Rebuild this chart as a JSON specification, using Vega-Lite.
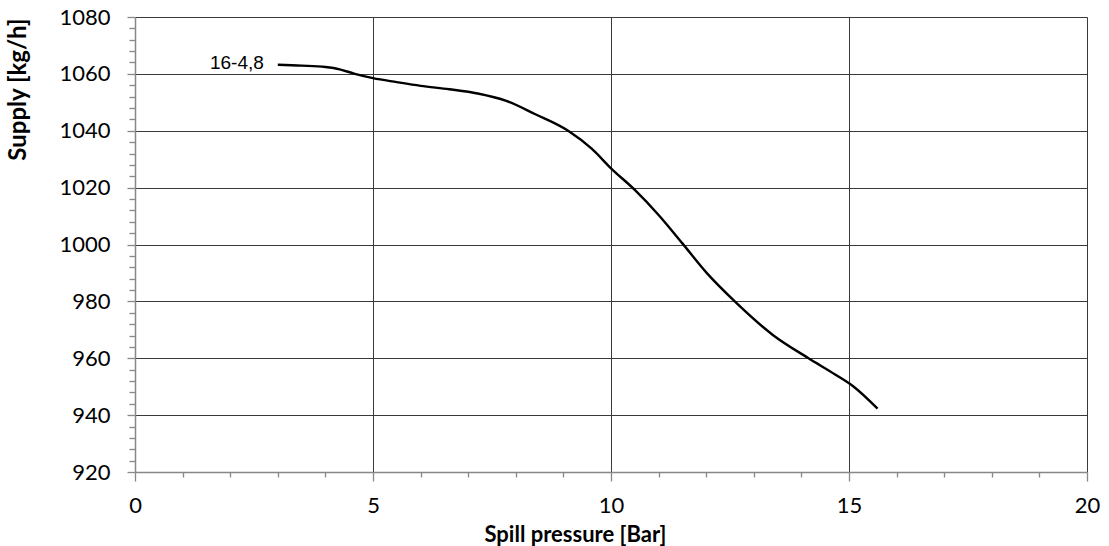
{
  "$schema": "https://vega.github.io/schema/vega-lite/v6.json",
  "width": 952,
  "height": 455,
  "autosize": "none",
  "padding": {"left": 135, "top": 17, "right": 22, "bottom": 74},
  "background": "white",
  "config": {"view": {"stroke": null}},
  "datasets": {
    "curve": [
      {"pressure": 3.0, "supply": 1063.2},
      {"pressure": 3.5, "supply": 1062.9},
      {"pressure": 4.0, "supply": 1062.4},
      {"pressure": 4.3, "supply": 1061.6},
      {"pressure": 4.6, "supply": 1060.1},
      {"pressure": 5.0, "supply": 1058.5},
      {"pressure": 5.5, "supply": 1057.1},
      {"pressure": 6.0, "supply": 1055.8},
      {"pressure": 6.6, "supply": 1054.6},
      {"pressure": 7.2, "supply": 1053.1},
      {"pressure": 7.8, "supply": 1050.5},
      {"pressure": 8.4, "supply": 1045.9},
      {"pressure": 9.1, "supply": 1040.0},
      {"pressure": 9.6, "supply": 1033.6},
      {"pressure": 10.0, "supply": 1026.8},
      {"pressure": 10.5, "supply": 1019.2},
      {"pressure": 11.0, "supply": 1010.4},
      {"pressure": 11.5, "supply": 1000.4},
      {"pressure": 12.0, "supply": 990.2},
      {"pressure": 12.6, "supply": 980.0},
      {"pressure": 13.4, "supply": 968.2},
      {"pressure": 14.15, "supply": 960.0},
      {"pressure": 14.7, "supply": 954.4},
      {"pressure": 15.1, "supply": 950.0},
      {"pressure": 15.6, "supply": 942.3}
    ],
    "label": [
      {"pressure": 3.0, "supply": 1063.2, "name": "16-4,8"}
    ]
  },
  "layer": [
    {
      "data": {"name": "curve"},
      "mark": {"type": "line", "interpolate": "monotone", "color": "black", "strokeWidth": 2.4},
      "encoding": {
        "x": {
          "field": "pressure",
          "type": "quantitative",
          "scale": {"domain": [0, 20], "nice": false, "zero": false},
          "axis": {
            "values": [0,1,2,3,4,5,6,7,8,9,10,11,12,13,14,15,16,17,18,19,20],
            "tickCount": 200,
            "format": "d",
            "labelExpr": "datum.value % 5 === 0 ? datum.label : ''",
            "labelOverlap": false,
            "labelFlush": false,
            "grid": true,
            "gridColor": "#3a3a3a",
            "gridWidth": 1,
            "gridOpacity": {"condition": {"test": "datum.value % 5 === 0 && datum.value > 0", "value": 1}, "value": 0},
            "tickSize": {"condition": {"test": "datum.value % 5 === 0", "value": 9}, "value": 5},
            "tickColor": "#888888",
            "tickWidth": 1.3,
            "domainColor": "#888888",
            "domainWidth": 1.5,
            "labelFont": "Lato",
            "labelFontSize": 22,
            "labelColor": "black",
            "labelPadding": 14,
            "title": "Spill pressure [Bar]",
            "titleFont": "Lato",
            "titleFontSize": 22,
            "titleFontWeight": "bold",
            "titleColor": "black",
            "titleX": 440,
            "titleY": 69,
            "titleAlign": "center",
            "titleBaseline": "alphabetic"
          }
        },
        "y": {
          "field": "supply",
          "type": "quantitative",
          "scale": {"domain": [920, 1080], "nice": false, "zero": false},
          "axis": {
            "values": [920,924,928,932,936,940,944,948,952,956,960,964,968,972,976,980,984,988,992,996,1000,1004,1008,1012,1016,1020,1024,1028,1032,1036,1040,1044,1048,1052,1056,1060,1064,1068,1072,1076,1080],
            "tickCount": 200,
            "format": "d",
            "labelExpr": "datum.value % 20 === 0 ? datum.label : ''",
            "labelOverlap": false,
            "labelFlush": false,
            "grid": true,
            "gridColor": "#3a3a3a",
            "gridWidth": 1,
            "gridOpacity": {"condition": {"test": "datum.value % 20 === 0 && datum.value > 920", "value": 1}, "value": 0},
            "tickSize": {"condition": {"test": "datum.value % 20 === 0", "value": 8}, "value": 6},
            "tickColor": "#888888",
            "tickWidth": 1.3,
            "domainColor": "#888888",
            "domainWidth": 1.5,
            "labelFont": "Lato",
            "labelFontSize": 22,
            "labelColor": "black",
            "labelPadding": 17,
            "title": "Supply [kg/h]",
            "titleFont": "Lato",
            "titleFontSize": 24,
            "titleFontWeight": "bold",
            "titleColor": "black",
            "titleX": -117,
            "titleY": 1,
            "titleAngle": -90,
            "titleAlign": "right",
            "titleBaseline": "middle"
          }
        }
      }
    },
    {
      "data": {"name": "label"},
      "mark": {"type": "text", "align": "right", "baseline": "middle", "dx": -14, "dy": -2, "font": "Liberation Sans", "fontSize": 19, "color": "black"},
      "encoding": {
        "x": {"field": "pressure", "type": "quantitative"},
        "y": {"field": "supply", "type": "quantitative"},
        "text": {"field": "name"}
      }
    }
  ]
}
